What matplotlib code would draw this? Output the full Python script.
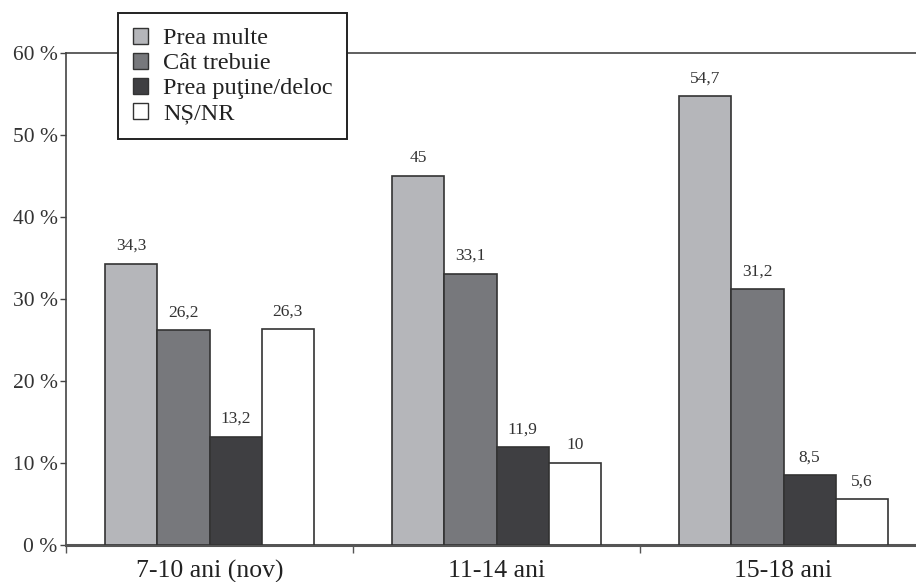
import matplotlib
matplotlib.use("Agg")
import matplotlib.pyplot as plt
from matplotlib.patches import Patch
import numpy as np

groups = ["7-10 ani (nov)", "11-14 ani", "15-18 ani"]
series = ["Prea multe", "Cât trebuie", "Prea puţine/deloc", "NȘ/NR"]
prea_multe = [34.3, 45.0, 54.7]
cat_trebuie = [26.2, 33.1, 31.2]
prea_putine = [13.2, 11.9, 8.5]
ns_nr = [26.3, 10.0, 5.6]
value_labels = [
    ["34,3", "45", "54,7"],
    ["26,2", "33,1", "31,2"],
    ["13,2", "11,9", "8,5"],
    ["26,3", "10", "5,6"],
]
yticks = [0, 10, 20, 30, 40, 50, 60]
ytick_labels = ["0 %", "10 %", "20 %", "30 %", "40 %", "50 %", "60 %"]

colors = ["#b5b6ba", "#77787c", "#3f3f42", "#ffffff"]
edge = "#333333"
text_col = "#333333"

plt.rcParams["font.family"] = ["Liberation Serif", "DejaVu Serif"]

W, H = 916, 582
fig = plt.figure(figsize=(W / 100, H / 100), dpi=100)
# axes in pixel coordinates: left 66, right ~927, bottom 545, top 53
left, right, bottom, top = 66, 927, 545, 53
ax = fig.add_axes([left / W, 1 - bottom / H, (right - left) / W, (bottom - top) / H])

values = [prea_multe, cat_trebuie, prea_putine, ns_nr]
x = np.arange(len(groups))
bw = 0.182
offsets = (np.arange(4) - 1.5) * bw
for i, (vals, col) in enumerate(zip(values, colors)):
    ax.bar(x + offsets[i], vals, width=bw, color=col, edgecolor=edge,
           linewidth=1.2, zorder=3)
    for xi, v, lab in zip(x + offsets[i], vals, value_labels[i]):
        ax.text(xi, v + 1.2, lab, ha="center", va="bottom", fontsize=12.5,
                color=text_col, zorder=4)

ax.set_xlim(-0.5, 2.5)
ax.set_ylim(0, 60)

ax.set_yticks(yticks)
ax.set_yticklabels(ytick_labels, fontsize=15.5, color=text_col)
ax.tick_params(axis="y", length=4, width=1, color="#444444", pad=2)

ax.set_xticks([-0.5, 0.5, 1.5])
ax.set_xticklabels([])
ax.set_xticks(x, minor=True)
ax.set_xticklabels(groups, minor=True, fontsize=18.5, color="#222222")
ax.tick_params(axis="x", which="major", length=6, width=1, color="#555555")
ax.tick_params(axis="x", which="minor", length=0, pad=11)

for s in ["left", "top"]:
    ax.spines[s].set_color("#444444")
    ax.spines[s].set_linewidth(1.2)
ax.spines["bottom"].set_color("#555555")
ax.spines["bottom"].set_linewidth(2.2)
ax.spines["right"].set_visible(False)

handles = [Patch(facecolor=c, edgecolor=edge, linewidth=1.0) for c in colors]
leg = fig.legend(handles, series, loc="upper left",
                 bbox_to_anchor=(118 / W, 1 - 13 / H),
                 fontsize=17.5, frameon=True, fancybox=False,
                 handlelength=0.65, handleheight=0.65, handletextpad=0.6,
                 labelspacing=0.14, borderpad=0.6, borderaxespad=0)
fr = leg.get_frame()
fr.set_edgecolor("#222222")
fr.set_linewidth(1.4)
fr.set_facecolor("white")
fr.set_alpha(1)
for t in leg.get_texts():
    t.set_color("#222222")

fig.savefig("out.png", dpi=100)
